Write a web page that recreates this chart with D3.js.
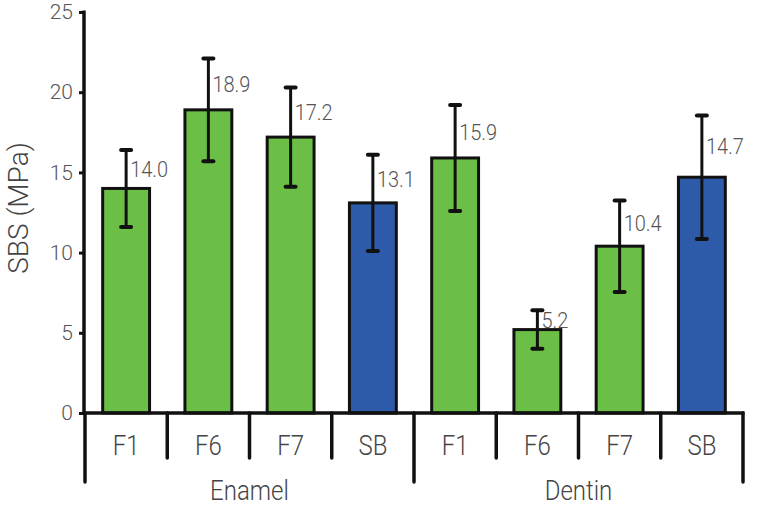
<!DOCTYPE html>
<html><head><meta charset="utf-8">
<script src="https://cdn.jsdelivr.net/npm/d3@7"></script>
<style>html,body{margin:0;padding:0;background:#fff;}</style>
</head><body>
<svg id="chart" width="757" height="509"></svg>
<script>
const groups = ["Enamel", "Dentin"];
const categories = ["F1", "F6", "F7", "SB"];
const enamelMeans = [14.0, 18.9, 17.2, 13.1];
const enamelSD = [2.4, 3.2, 3.1, 3.0];
const dentinMeans = [15.9, 5.2, 10.4, 14.7];
const dentinSD = [3.3, 1.2, 2.85, 3.85];
const yTicks = [0, 5, 10, 15, 20, 25];
const yTitle = "SBS (MPa)";
const barColors = {F1: "#6cbf46", F6: "#6cbf46", F7: "#6cbf46", SB: "#2d5ba9"};

const data = [];
groups.forEach((g, gi) => {
  const m = gi === 0 ? enamelMeans : dentinMeans;
  const s = gi === 0 ? enamelSD : dentinSD;
  categories.forEach((c, ci) => data.push({group: g, cat: c, key: g + "-" + c, mean: m[ci], sd: s[ci]}));
});

const svg = d3.select("#chart");
const x0 = 85, x1 = 743, yBase = 413, yTop = 12;
const x = d3.scaleBand().domain(data.map(d => d.key)).range([x0, x1]).paddingInner(0.43).paddingOuter(0.215);
const y = d3.scaleLinear().domain([0, 25]).range([yBase, yTop]);
const step = x.step();
const font = "Roboto, 'Liberation Sans', Arial, sans-serif";
const fw = 300;
const textColor = "#444";
const sy = 1.12; // vertical stretch of text as in the reference

// bars
svg.selectAll("rect.bar").data(data).enter().append("rect")
  .attr("x", d => x(d.key)).attr("y", d => y(d.mean))
  .attr("width", x.bandwidth()).attr("height", d => yBase - y(d.mean))
  .attr("fill", d => barColors[d.cat]).attr("stroke", "#111").attr("stroke-width", 3);

// error bars
const eb = svg.selectAll("g.eb").data(data).enter().append("g");
eb.append("line").attr("x1", d => x(d.key) + x.bandwidth() / 2).attr("x2", d => x(d.key) + x.bandwidth() / 2)
  .attr("y1", d => y(d.mean + d.sd)).attr("y2", d => y(d.mean - d.sd)).attr("stroke", "#111").attr("stroke-width", 3);
[1, -1].forEach(sg => {
  eb.append("line").attr("x1", d => x(d.key) + x.bandwidth() / 2 - 5).attr("x2", d => x(d.key) + x.bandwidth() / 2 + 5)
    .attr("y1", d => y(d.mean + sg * d.sd)).attr("y2", d => y(d.mean + sg * d.sd))
    .attr("stroke", "#111").attr("stroke-width", 4).attr("stroke-linecap", "round");
});

function stretched(sel, px, py) {
  return sel.attr("transform", d => `translate(${px(d)},${py(d)}) scale(1,${sy})`);
}

// value labels
stretched(svg.selectAll("text.val").data(data).enter().append("text"),
  d => x(d.key) + x.bandwidth() / 2 + 4, d => (y(d.mean + d.sd) + y(d.mean)) / 2)
  .attr("dy", "0.36em").attr("font-family", font).attr("font-weight", fw).attr("font-size", 20)
  .attr("fill", "#555").text(d => d.mean.toFixed(1));

// y axis
const yAxis = d3.axisLeft(y).tickValues(yTicks).tickSize(5).tickPadding(6).tickFormat(d3.format("d"));
const ga = svg.append("g").attr("transform", `translate(${x0 - 1},0)`).call(yAxis);
ga.select(".domain").remove();
ga.selectAll(".tick line").attr("stroke", "#111").attr("stroke-width", 3);
ga.selectAll(".tick text").attr("font-family", font).attr("font-weight", fw).attr("font-size", 21).attr("fill", "#555");
svg.append("line").attr("x1", x0 - 1).attr("x2", x0 - 1).attr("y1", yTop - 1.5).attr("y2", yBase)
  .attr("stroke", "#111").attr("stroke-width", 3.5);

// baseline
svg.append("line").attr("x1", x0 - 2.5).attr("x2", x1 + 1.5).attr("y1", yBase).attr("y2", yBase)
  .attr("stroke", "#111").attr("stroke-width", 3.5);

// bottom separators
const seps = d3.range(data.length + 1).map(i => ({pos: x0 + i * step, long: i % categories.length === 0}));
svg.selectAll("line.sep").data(seps).enter().append("line")
  .attr("x1", d => d.pos).attr("x2", d => d.pos).attr("y1", yBase)
  .attr("y2", d => d.long ? 482 : 458).attr("stroke", "#111").attr("stroke-width", 3.5).attr("stroke-linecap", "round");

// category labels
stretched(svg.selectAll("text.cat").data(data).enter().append("text"),
  d => x(d.key) + x.bandwidth() / 2, () => 445)
  .attr("dy", "0.36em")
  .attr("text-anchor", "middle").attr("font-family", font).attr("font-weight", fw).attr("font-size", 24).attr("fill", textColor)
  .text(d => d.cat);

// group labels
stretched(svg.selectAll("text.grp").data(groups).enter().append("text"),
  (d, i) => x0 + (groups.indexOf(d) + 0.5) * step * categories.length, () => 490)
  .attr("dy", "0.36em")
  .attr("text-anchor", "middle").attr("font-family", font).attr("font-weight", fw).attr("font-size", 24).attr("fill", textColor)
  .text(d => d);

// y title
svg.append("text").attr("transform", "translate(18,208) rotate(-90)").attr("dy", "0.36em")
  .attr("text-anchor", "middle").attr("font-family", font).attr("font-weight", fw).attr("font-size", 28).attr("fill", textColor)
  .text(yTitle);
</script>
</body></html>
